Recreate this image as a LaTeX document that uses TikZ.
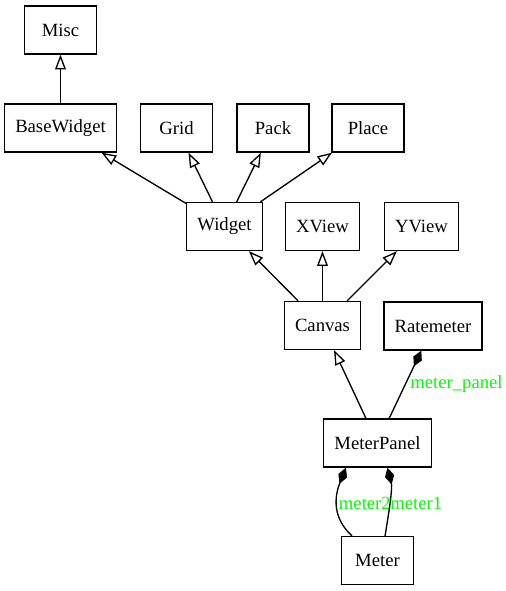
\documentclass[tikz,border=0pt]{standalone}
\usepackage{fontspec}
\setmainfont{Liberation Serif}
\usepackage{tikz}
\usetikzlibrary{arrows.meta}

\begin{document}
\begin{tikzpicture}[
x=0.75bp, y=-0.75bp,
every node/.style={align=center, font=\fontsize{14bp}{16bp}\selectfont},
cls/.style={draw, line width=1bp, minimum width=54bp, minimum height=36bp, inner xsep=8bp},
inherit/.style={-{Triangle[open, length=11bp, width=8bp]}, line width=1bp},
owns/.style={-{Diamond[length=13bp, width=7bp]}, line width=1bp},
role/.style={text=green}
]
\useasboundingbox (0,0) rectangle (506,591);

% Top Row
\node[cls] (misc) at (60.5,30) {Misc};

% Second Row
\node[cls] (basewidget) at (60.5,128) {BaseWidget};
\node[cls] (grid) at (176.5,128) {Grid};
\node[cls] (pack) at (273,128) {Pack};
\node[cls] (place) at (368,128) {Place};

% Third Row
\node[cls] (widget) at (224.5,226.5) {Widget};
\node[cls] (xview) at (322.5,226.5) {XView};
\node[cls] (yview) at (421.5,226.5) {YView};

% Fourth Row
\node[cls] (canvas) at (322.5,325.5) {Canvas};
\node[cls] (ratemeter) at (433,326) {Ratemeter};

% Bottom Rows
\node[cls] (meterpanel) at (377.5,443) {MeterPanel};
\node[cls] (meter) at (377.5,560.5) {Meter};

% Inheritance
\draw[inherit] (basewidget) -- (misc);
\draw[inherit] (widget) -- (basewidget);
\draw[inherit] (widget) -- (grid);
\draw[inherit] (widget) -- (pack);
\draw[inherit] (widget) -- (place);
\draw[inherit] (canvas) -- (widget);
\draw[inherit] (canvas) -- (xview);
\draw[inherit] (canvas) -- (yview);
\draw[inherit] (meterpanel) -- (canvas);

% Composition
\draw[owns] (meterpanel) -- node[right, role]
{meter\_panel} (ratemeter);

\draw[owns] (meter.136) .. controls +(-22,-20) and +(-10,25) .. node[right, role, inner sep=1bp]
{meter2} (meterpanel.218);

\draw[owns] (meter.73) .. controls +(5,-30) and +(5,20) .. node[pos=0.42, right, role, inner sep=0pt]
{meter1} (meterpanel.292);

\end{tikzpicture}
\end{document}
